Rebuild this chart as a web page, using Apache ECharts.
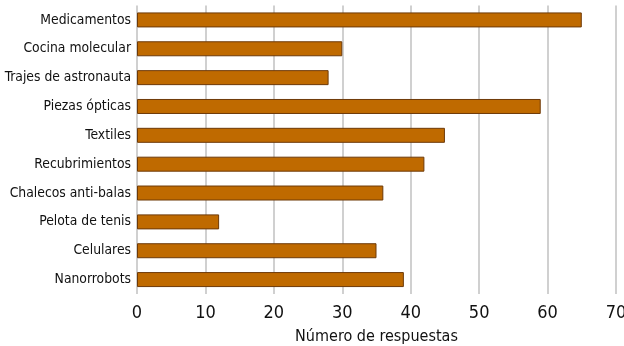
<!DOCTYPE html>
<html>
<head>
<meta charset="utf-8">
<script src="https://cdn.jsdelivr.net/npm/echarts@6/dist/echarts.min.js"></script>
<style>
    html, body { margin: 0; padding: 0; background: #fff; }
    #chart { width: 624px; height: 346px; }
</style>
</head>
<body>
<div id="chart"></div>
<script>
// categorias de arriba hacia abajo
var categorias = ['Medicamentos', 'Cocina molecular', 'Trajes de astronauta', 'Piezas ópticas', 'Textiles',
    'Recubrimientos', 'Chalecos anti-balas', 'Pelota de tenis', 'Celulares', 'Nanorrobots'];
var respuestas = [65, 30, 28, 59, 45, 42, 36, 12, 35, 39];
var ticksX = [0, 10, 20, 30, 40, 50, 60, 70];

var myChart = echarts.init(document.getElementById('chart'));
myChart.setOption({
    animation: false,
    textStyle: { fontFamily: '"DejaVu Sans Condensed", "DejaVu Sans"' },
    grid: { left: 137, right: 8, top: 5.5, bottom: 52, containLabel: false, outerBoundsMode: 'none' },
    xAxis: {
        type: 'value',
        min: ticksX[0],
        max: ticksX[ticksX.length - 1],
        interval: 10,
        name: 'Número de respuestas',
        nameLocation: 'middle',
        nameGap: 35,
        nameTextStyle: { fontSize: 16, color: '#111' },
        axisLine: { show: false },
        axisTick: { show: false },
        axisLabel: { fontSize: 18, color: '#111', margin: 10 },
        splitLine: { show: true, lineStyle: { color: '#c0c0c0', width: 1.5 } }
    },
    yAxis: {
        type: 'category',
        inverse: true,
        data: categorias,
        axisLine: { show: false },
        axisTick: { show: false },
        axisLabel: { fontSize: 13.8, color: '#111', margin: 6 }
    },
    series: [{
        type: 'bar',
        data: respuestas,
        barWidth: 15,
        itemStyle: { color: '#bf6a00', borderColor: '#6e3a08', borderWidth: 1 }
    }]
});
</script>
</body>
</html>
